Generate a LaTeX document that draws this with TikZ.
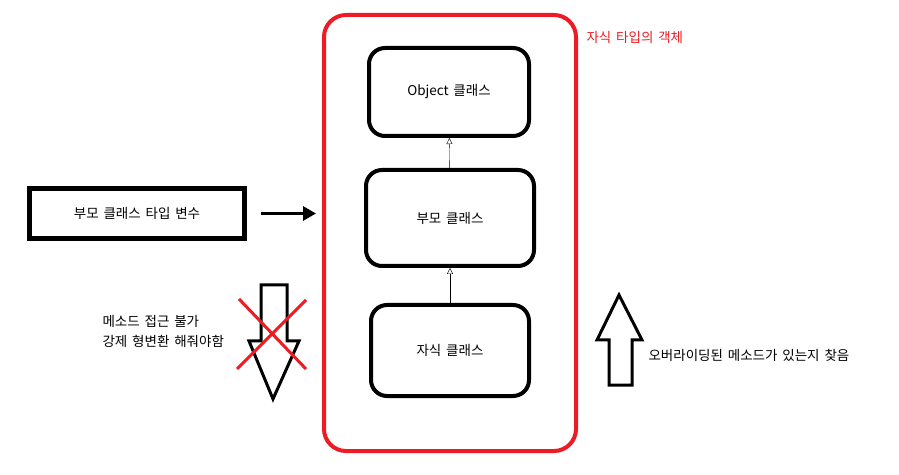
\documentclass[tikz,border=0pt]{standalone}
\usepackage{fontspec}
\setmainfont[WordSpace=1.6]{Noto Sans CJK KR}
\usetikzlibrary{arrows.meta}
\definecolor{paintred}{RGB}{237,28,36}

\begin{document}
\begin{tikzpicture}[x=1pt,y=1pt,font=\fontsize{13.5}{20}\selectfont]
  \tikzstyle{class box}=[draw,line width=4pt,rounded corners=16pt]
  \tikzstyle{block arrow}=[draw,line width=3pt,fill=white,line join=miter]
  \useasboundingbox (0,0) rectangle (899,474);

  % object in memory
  \node[draw=paintred,line width=4pt,rounded corners=22pt,minimum width=252pt,minimum height=436pt] (frame) at (450,241) {};
  \node[anchor=west,text=paintred] (objlabel) at (583,437) {자식 타입의 객체};

  \node[class box,minimum width=160pt,minimum height=88pt] (obj)    at (449,382)   {Object 클래스};
  \node[class box,minimum width=168pt,minimum height=96pt] (parent) at (450,256)   {부모 클래스};
  \node[class box,minimum width=158pt,minimum height=91pt] (child)  at (450,123.5) {자식 클래스};

  \path[-{Triangle[open,length=6pt,width=6pt]},thin]
        (parent) edge (obj)
        (child) edge (parent);

  % reference variable
  \node[draw,line width=5pt,minimum width=215pt,minimum height=50pt] (var) at (137,260.5) {부모 클래스 타입 변수};
  \draw[line width=3pt,-{Triangle[length=13pt,width=14pt]}]
        ([xshift=14pt]var.east) -- ([xshift=-6pt]frame.west |- var.east);

  % no downcast
  \draw[block arrow] (261,189) -- (287,189) -- (287,133) -- (299,133) -- (273,75)
        -- (249,133) -- (261,133) -- cycle;
  \draw[paintred,line width=3pt] (239,175) -- (306,105) (306,174) -- (237,105);
  \node[anchor=west,align=left] (nocast) at (99,143) {메소드 접근 불가\\강제 형변환 해줘야함};

  % overriding lookup
  \draw[block arrow] (619,179) -- (642,134) -- (632,134) -- (632,89) -- (609,89)
        -- (609,134) -- (597,134) -- cycle;
  \node[anchor=west] (lookup) at (645,119) {오버라이딩된 메소드가 있는지 찾음};
\end{tikzpicture}
\end{document}
